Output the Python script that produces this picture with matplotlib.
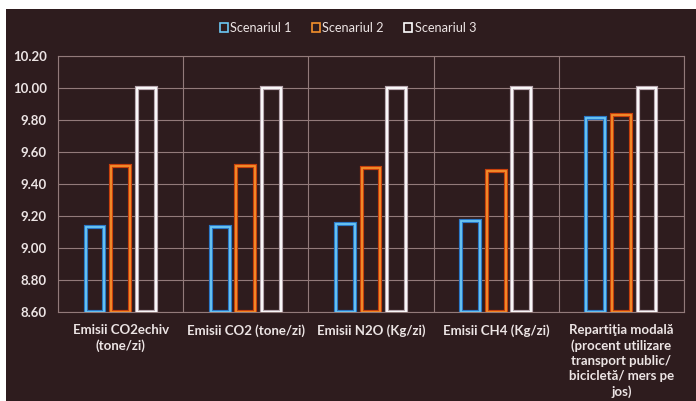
import numpy as np
import matplotlib.pyplot as plt
from matplotlib.patches import Patch, Rectangle

plt.rcParams['font.family'] = ['Lato', 'DejaVu Sans']

categories = [
    'Emisii CO2echiv\n(tone/zi)',
    'Emisii CO2 (tone/zi)',
    'Emisii N2O (Kg/zi)',
    'Emisii CH4 (Kg/zi)',
    'Repartiţia modală\n(procent utilizare\ntransport public/\nbicicletă/ mers pe\njos)',
]
scenariul_1 = [9.13, 9.13, 9.15, 9.17, 9.81]
scenariul_2 = [9.51, 9.51, 9.50, 9.48, 9.83]
scenariul_3 = [10.00, 10.00, 10.00, 10.00, 10.00]
series_names = ['Scenariul 1', 'Scenariul 2', 'Scenariul 3']
y_ticks = [8.60, 8.80, 9.00, 9.20, 9.40, 9.60, 9.80, 10.00, 10.20]

bg = '#2e1c1e'
grid_col = '#927a7a'
text_col = '#ece4e4'
# (outer glow, inner line) per series
edge_cols = [('#2a78c8', '#6cc8f4'), ('#c8400c', '#f4902c'), ('#b8a8b0', '#ffffff')]

fig = plt.figure(figsize=(6.96, 4.01), dpi=100, facecolor='white')
fig.patches.append(Rectangle((6 / 696, 0), 1, 1 - 9 / 401, transform=fig.transFigure,
                             facecolor=bg, edgecolor='none', zorder=-10))

ax = fig.add_axes([58 / 696, 89 / 401, 626 / 696, 256 / 401])
ax.set_zorder(2)
ax.set_facecolor(bg)
ax.patch.set_alpha(0)

x = np.arange(len(categories))
ymin, ymax = y_ticks[0], y_ticks[-1]
width = 0.15
offsets = [-0.205, 0.0, 0.205]

for vals, off, (outer, inner) in zip([scenariul_1, scenariul_2, scenariul_3], offsets, edge_cols):
    h = np.array(vals) - ymin
    ax.bar(x + off, h, width, bottom=ymin, facecolor='none', edgecolor=outer,
           linewidth=3.0, zorder=3)
    ax.bar(x + off, h, width, bottom=ymin, facecolor='none', edgecolor=inner,
           linewidth=1.3, zorder=4)

ax.set_xlim(-0.5, len(categories) - 0.5)
ax.set_ylim(ymin, ymax)
ax.set_yticks(y_ticks)
ax.set_yticklabels([f'{v:.2f}' for v in y_ticks])
ax.set_xticks(x)
ax.set_xticklabels(categories, va='top')
for lbl in ax.get_xticklabels():
    lbl.set_linespacing(1.3)
ax.tick_params(axis='both', length=0, colors=text_col, labelsize=9.5, pad=8)
ax.tick_params(axis='x', pad=9)
for lbl in ax.get_yticklabels() + ax.get_xticklabels():
    lbl.set_fontweight('bold')

for v in y_ticks:
    ax.axhline(v, color=grid_col, lw=0.8, zorder=1)
for b in np.arange(-0.5, len(categories), 1.0):
    ax.axvline(b, color=grid_col, lw=0.8, zorder=1)
for s in ax.spines.values():
    s.set_color(grid_col)
    s.set_linewidth(0.8)

handles = [Patch(facecolor='none', edgecolor=inner, linewidth=1.2, label=name)
           for (outer, inner), name in zip(edge_cols, series_names)]
leg = fig.legend(handles=handles, loc='center', bbox_to_anchor=(0.5, 1 - 28 / 401),
                 ncol=3, frameon=False, fontsize=9.2, handlelength=0.6, handleheight=0.6,
                 handletextpad=0.2, columnspacing=1.6)
for t in leg.get_texts():
    t.set_color(text_col)

fig.savefig('out.png', dpi=100, facecolor='white')
